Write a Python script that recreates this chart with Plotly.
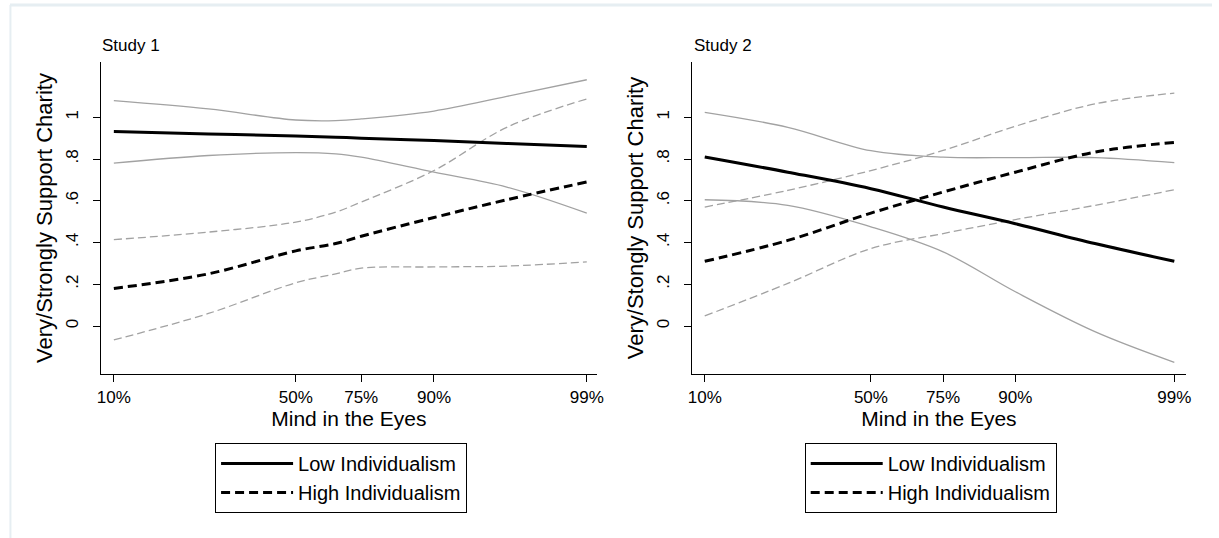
import plotly.graph_objects as go
from plotly.subplots import make_subplots

# ---- data ----
tick_labels = ["10%", "50%", "75%", "90%", "99%"]
s1_tick_scores = [20, 25, 26.8, 28.8, 33]
s2_tick_scores = [20, 24.6, 26.6, 28.6, 33]

s1_x = [20, 22.6, 25, 26.1, 26.8, 28.8, 30.8, 33]
s1_low = [0.932, 0.92, 0.911, 0.905, 0.90, 0.889, 0.875, 0.86]
s1_low_ub = [1.08, 1.04, 0.987, 0.984, 0.992, 1.03, 1.10, 1.18]
s1_low_lb = [0.78, 0.817, 0.831, 0.825, 0.809, 0.737, 0.666, 0.541]
s1_high = [0.18, 0.25, 0.36, 0.395, 0.43, 0.52, 0.605, 0.69]
s1_high_ub = [0.414, 0.45, 0.498, 0.546, 0.594, 0.745, 0.952, 1.088]
s1_high_lb = [-0.067, 0.06, 0.207, 0.25, 0.277, 0.283, 0.287, 0.307]

s2_x = [20, 22.3, 24.6, 26.6, 28.6, 30.8, 33]
s2_low = [0.81, 0.737, 0.658, 0.57, 0.49, 0.395, 0.31]
s2_low_ub = [1.024, 0.952, 0.84, 0.809, 0.807, 0.807, 0.783]
s2_low_lb = [0.605, 0.578, 0.475, 0.355, 0.164, -0.027, -0.174]
s2_high = [0.31, 0.41, 0.541, 0.642, 0.737, 0.833, 0.88]
s2_high_ub = [0.57, 0.65, 0.745, 0.841, 0.957, 1.064, 1.116]
s2_high_lb = [0.048, 0.204, 0.371, 0.443, 0.51, 0.578, 0.653]

y_tick_vals = [0, 0.2, 0.4, 0.6, 0.8, 1]
y_tick_text = ["0", ".2", ".4", ".6", ".8", "1"]

FONT = "Liberation Sans, Arial, sans-serif"
GRAY = "#a2a2a2"

fig = make_subplots(rows=1, cols=2, horizontal_spacing=0.05)

def add_study(col, x, low, low_ub, low_lb, high, high_ub, high_lb, legend):
    ci_style = [(low_ub, "solid"), (low_lb, "solid"), (high_ub, "8px,4px"), (high_lb, "8px,4px")]
    for ys, dash in ci_style:
        fig.add_trace(go.Scatter(x=x, y=ys, mode="lines", showlegend=False, hoverinfo="skip",
                                 line=dict(color=GRAY, width=1.3, dash=dash, shape="spline")),
                      row=1, col=col)
    fig.add_trace(go.Scatter(x=x, y=low, mode="lines", name="Low Individualism", legend=legend,
                             line=dict(color="black", width=3, shape="spline")), row=1, col=col)
    fig.add_trace(go.Scatter(x=x, y=high, mode="lines", name="High Individualism", legend=legend,
                             line=dict(color="black", width=3, dash="9px,5px", shape="spline")),
                  row=1, col=col)

add_study(1, s1_x, s1_low, s1_low_ub, s1_low_lb, s1_high, s1_high_ub, s1_high_lb, "legend")
add_study(2, s2_x, s2_low, s2_low_ub, s2_low_lb, s2_high, s2_high_ub, s2_high_lb, "legend2")

W, H = 1219, 538
def px_x(p):
    return p / W
def px_y(p):
    return 1 - p / H

axis_common = dict(showgrid=False, zeroline=False, showline=True, linecolor="black", linewidth=1.4,
                   ticks="outside", ticklen=7, tickcolor="black", tickwidth=1.4,
                   tickfont=dict(family=FONT, size=17, color="black"))

fig.update_xaxes(**axis_common)
fig.update_yaxes(**axis_common)

xtitle_font = dict(family=FONT, size=21, color="black")
ytitle_font = dict(family=FONT, size=22, color="black")

fig.update_layout(
    xaxis=dict(domain=[px_x(98), px_x(598)], range=[19.65, 33.27], tickvals=s1_tick_scores,
               ticktext=tick_labels,
               title=dict(text="Mind in the Eyes", font=xtitle_font, standoff=2)),
    xaxis2=dict(domain=[px_x(694), px_x(1193)], range=[19.64, 33.33], tickvals=s2_tick_scores,
                ticktext=tick_labels,
                title=dict(text="Mind in the Eyes", font=xtitle_font, standoff=2)),
    yaxis=dict(domain=[px_y(374), px_y(62)], range=[-0.23, 1.265], tickvals=y_tick_vals,
               ticktext=y_tick_text, tickangle=-90, ticklabelstandoff=8,
               title=dict(text="Very/Strongly Support Charity", font=ytitle_font, standoff=4)),
    yaxis2=dict(domain=[px_y(374), px_y(62)], range=[-0.23, 1.265], tickvals=y_tick_vals,
                ticktext=y_tick_text, tickangle=-90, ticklabelstandoff=8,
                title=dict(text="Very/Stongly Support Charity", font=ytitle_font, standoff=4)),
    width=W, height=H,
    margin=dict(l=0, r=0, t=0, b=0),
    paper_bgcolor="white", plot_bgcolor="white",
    font=dict(family=FONT, color="black"),
    legend=dict(x=px_x(213), y=px_y(443), xanchor="left", yanchor="top",
                bordercolor="black", borderwidth=1, bgcolor="white",
                font=dict(family=FONT, size=20, color="black"), itemwidth=72,
                tracegroupgap=0),
    legend2=dict(x=px_x(808), y=px_y(443), xanchor="left", yanchor="top",
                 bordercolor="black", borderwidth=1, bgcolor="white",
                 font=dict(family=FONT, size=20, color="black"), itemwidth=72,
                 tracegroupgap=0),
    annotations=[
        dict(text="Study 1", x=px_x(97), y=px_y(46), xref="paper", yref="paper", showarrow=False,
             xanchor="left", yanchor="middle", font=dict(family=FONT, size=17, color="black")),
        dict(text="Study 2", x=px_x(694), y=px_y(46), xref="paper", yref="paper", showarrow=False,
             xanchor="left", yanchor="middle", font=dict(family=FONT, size=17, color="black")),
    ],
    shapes=[
        dict(type="line", xref="paper", yref="paper", x0=px_x(6), x1=1, y0=px_y(5), y1=px_y(5),
             line=dict(color="#e6eef2", width=3)),
        dict(type="line", xref="paper", yref="paper", x0=px_x(6.5), x1=px_x(6.5), y0=px_y(5), y1=0,
             line=dict(color="#e6eef2", width=2)),
    ],
)

fig.write_html("out.html", config={"displayModeBar": False},
               post_script="document.body.style.margin='0';")
